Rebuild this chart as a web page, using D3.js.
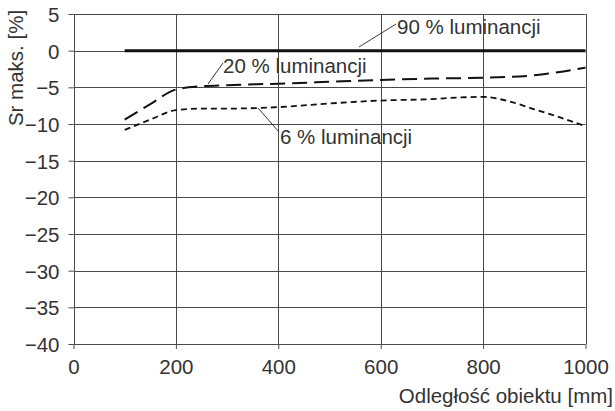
<!DOCTYPE html>
<html>
<head>
<meta charset="utf-8">
<script src="https://cdn.jsdelivr.net/npm/d3@7"></script>
<style>
  html, body { margin: 0; padding: 0; background: #fff; }
  svg text { font-family: "Liberation Sans", Arial, sans-serif; font-weight: normal; fill: #333; }
</style>
</head>
<body>
<svg id="chart" width="615" height="411"></svg>
<script>
// ---- data ----
const xTicks = [0, 200, 400, 600, 800, 1000];
const yTicks = [5, 0, -5, -10, -15, -20, -25, -30, -35, -40];

const lum90X = [100, 1000];
const lum90Y = [0, 0];

const lum20X = [100, 150, 200, 250, 300, 400, 500, 600, 700, 800, 900, 950, 1000];
const lum20Y = [-9.4, -7.3, -5.3, -4.85, -4.7, -4.5, -4.25, -4.0, -3.8, -3.7, -3.35, -2.9, -2.3];

const lum6X = [100, 150, 200, 250, 300, 400, 500, 600, 700, 750, 800, 850, 900, 950, 1000];
const lum6Y = [-10.8, -9.4, -8.1, -7.9, -7.9, -7.7, -7.2, -6.8, -6.6, -6.4, -6.3, -6.9, -8.0, -9.1, -10.3];

const seriesLabels = ["90 % luminancji", "20 % luminancji", "6 % luminancji"];
const xTitle = "Odległość obiektu [mm]";
const yTitle = "Sr maks. [%]";

// ---- layout ----
const svg = d3.select("#chart");
const pLeft = 73.5, pRight = 585.5, pTop = 14, pBottom = 344;
const fs = 20.5;
const x = d3.scaleLinear().domain([0, 1000]).range([pLeft, pRight]);
const y = d3.scaleLinear().domain([-40, 5]).range([pBottom, pTop]);

const gridColor = "#4a4a4a";

// grid lines
svg.append("g").selectAll("line").data(yTicks).join("line")
  .attr("x1", pLeft).attr("x2", pRight)
  .attr("y1", d => Math.round(y(d)) + 0.5).attr("y2", d => Math.round(y(d)) + 0.5)
  .attr("stroke", gridColor).attr("stroke-width", 1);
svg.append("g").selectAll("line").data(xTicks).join("line")
  .attr("x1", d => Math.round(x(d)) + 0.5).attr("x2", d => Math.round(x(d)) + 0.5)
  .attr("y1", pTop).attr("y2", pBottom)
  .attr("stroke", gridColor).attr("stroke-width", 1);

// axes
const fmt = d => d3.format("")(d);
const yAxis = svg.append("g").attr("transform", `translate(${pLeft},0)`)
  .call(d3.axisLeft(y).tickValues(yTicks).tickSize(5).tickPadding(9).tickFormat(fmt));
const xAxis = svg.append("g").attr("transform", `translate(0,${pBottom})`)
  .call(d3.axisBottom(x).tickValues(xTicks).tickSize(5).tickPadding(10).tickFormat(fmt));
[yAxis, xAxis].forEach(a => {
  a.attr("font-family", null).attr("font-size", null);
  a.select(".domain").remove();
  a.selectAll(".tick line").attr("stroke", gridColor);
  a.selectAll(".tick text").attr("font-size", fs).attr("fill", "#333");
});
yAxis.selectAll(".tick text").attr("dy", "0.36em");

// series
const line = d3.line().x(d => x(d[0])).y(d => y(d[1])).curve(d3.curveMonotoneX);
const zip = (xs, ys) => xs.map((v, i) => [v, ys[i]]);

svg.append("path").datum(zip(lum90X, lum90Y)).attr("d", line)
  .attr("fill", "none").attr("stroke", "#111").attr("stroke-width", 3);
svg.append("path").datum(zip(lum20X, lum20Y)).attr("d", line)
  .attr("fill", "none").attr("stroke", "#111").attr("stroke-width", 2)
  .attr("stroke-dasharray", "15,7");
svg.append("path").datum(zip(lum6X, lum6Y)).attr("d", line)
  .attr("fill", "none").attr("stroke", "#111").attr("stroke-width", 1.8)
  .attr("stroke-dasharray", "6,4");

// labels with leader lines
const labels = [
  { text: seriesLabels[0], lx: 397, ly: 34, x1: 359, y1: 47, x2: 396, y2: 24 },
  { text: seriesLabels[1], lx: 223, ly: 72.5, x1: 208, y1: 84, x2: 223, y2: 63 },
  { text: seriesLabels[2], lx: 280, ly: 144, x1: 258, y1: 108, x2: 279, y2: 132 }
];
labels.forEach(l => {
  svg.append("line").attr("x1", l.x1).attr("y1", l.y1).attr("x2", l.x2).attr("y2", l.y2)
    .attr("stroke", "#222").attr("stroke-width", 0.9);
  svg.append("text").attr("x", l.lx).attr("y", l.ly).attr("font-size", fs).text(l.text);
});

// axis titles
svg.append("text").attr("x", 613).attr("y", 403).attr("text-anchor", "end")
  .attr("font-size", fs).text(xTitle);
svg.append("text").attr("transform", "translate(23,68) rotate(-90)")
  .attr("text-anchor", "middle").attr("font-size", fs).text(yTitle);
</script>
</body>
</html>
